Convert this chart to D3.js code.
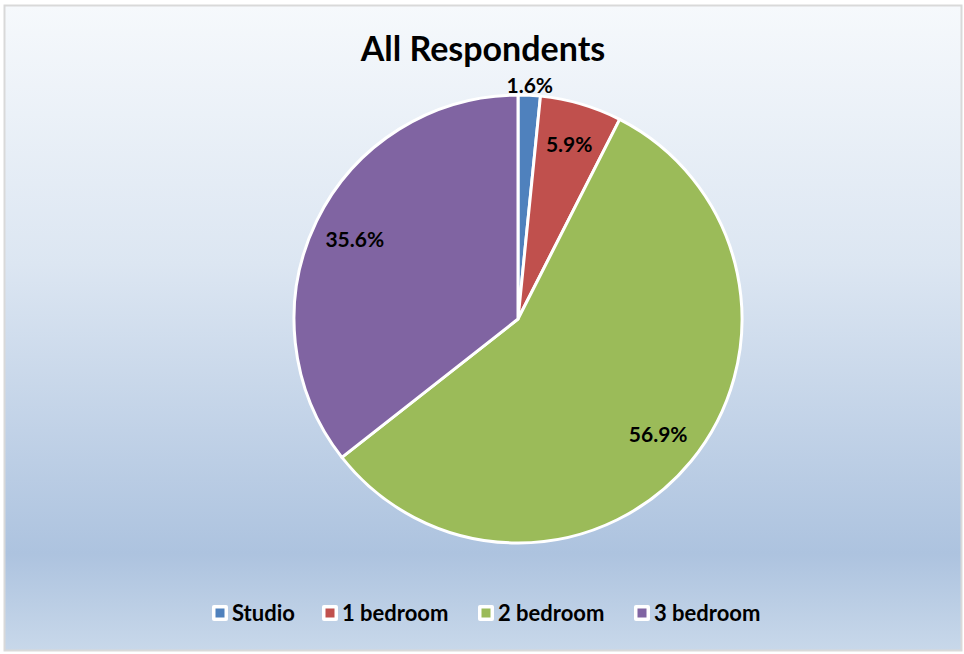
<!DOCTYPE html>
<html>
<head>
<meta charset="utf-8">
<script src="https://cdn.jsdelivr.net/npm/d3@7/dist/d3.min.js"></script>
<style>
  html, body { margin: 0; padding: 0; background: #ffffff; }
  svg { display: block; }
</style>
</head>
<body>
<svg id="chart" width="964" height="654"></svg>
<script>
// Unit sizes chosen by respondents
const categories = ["Studio", "1 bedroom", "2 bedroom", "3 bedroom"];
const shares = [1.6, 5.9, 56.9, 35.6];
const colors = ["#4f81bd", "#c0504d", "#9bbb59", "#8064a2"];
const title = "All Respondents";

const width = 964, height = 654;
const svg = d3.select("#chart");
const font = "Lato, 'Open Sans', sans-serif";

// Background panel with vertical gradient
const defs = svg.append("defs");
const grad = defs.append("linearGradient")
  .attr("id", "bg").attr("x1", 0).attr("y1", 0).attr("x2", 0).attr("y2", 1);
grad.append("stop").attr("offset", "0%").attr("stop-color", "#f6f9fc");
grad.append("stop").attr("offset", "40%").attr("stop-color", "#dce6f2");
grad.append("stop").attr("offset", "85%").attr("stop-color", "#adc3df");
grad.append("stop").attr("offset", "100%").attr("stop-color", "#c8d8ea");

svg.append("rect")
  .attr("x", 4.5).attr("y", 5.5).attr("width", 957).attr("height", 645)
  .attr("fill", "url(#bg)")
  .attr("stroke", "#d9d9d9").attr("stroke-width", 2);

// Title
svg.append("text")
  .attr("x", 483).attr("y", 61)
  .attr("text-anchor", "middle")
  .attr("font-family", font).attr("font-weight", "bold")
  .attr("font-size", 34).attr("fill", "#000")
  .text(title);

// Pie
const cx = 518, cy = 319, R = 224;
const data = categories.map((c, i) => ({ name: c, value: shares[i], color: colors[i] }));
const pie = d3.pie().value(d => d.value).sort(null);
const arc = d3.arc().innerRadius(0).outerRadius(R);
const arcs = pie(data);

const g = svg.append("g").attr("transform", `translate(${cx},${cy})`);
g.selectAll("path.slice")
  .data(arcs)
  .join("path")
  .attr("class", "slice")
  .attr("d", arc)
  .attr("fill", d => d.data.color)
  .attr("stroke", "#ffffff")
  .attr("stroke-width", 3)
  .attr("stroke-linejoin", "round");

// Percentage labels: inside for larger slices, just outside the rim for tiny ones
const inner = d3.arc().innerRadius(R * 0.81).outerRadius(R * 0.81);
const outer = d3.arc().innerRadius(R + 10).outerRadius(R + 10);
g.selectAll("text.lbl")
  .data(arcs)
  .join("text")
  .attr("class", "lbl")
  .attr("transform", d => {
    const p = (d.data.value < 3 ? outer : inner).centroid(d);
    return `translate(${p[0]},${p[1]})`;
  })
  .attr("text-anchor", "middle")
  .attr("dy", "0.35em")
  .attr("font-family", font).attr("font-weight", "bold")
  .attr("font-size", 21).attr("fill", "#000")
  .text(d => d.data.value.toFixed(1) + "%");

// Legend
const legendX = [212, 322, 478, 634];
const legend = svg.append("g");
const items = legend.selectAll("g.item")
  .data(data)
  .join("g")
  .attr("class", "item")
  .attr("transform", (d, i) => `translate(${legendX[i]},613)`);
items.append("rect")
  .attr("x", 0).attr("y", -8).attr("width", 16).attr("height", 16).attr("rx", 2)
  .attr("fill", "#ffffff");
items.append("rect")
  .attr("x", 3.5).attr("y", -4.5).attr("width", 9).attr("height", 9)
  .attr("fill", d => d.color);
items.append("text")
  .attr("x", 20).attr("y", 0).attr("dy", "0.35em")
  .attr("font-family", font).attr("font-weight", "bold")
  .attr("font-size", 22).attr("fill", "#000")
  .text(d => d.name);
</script>
</body>
</html>
